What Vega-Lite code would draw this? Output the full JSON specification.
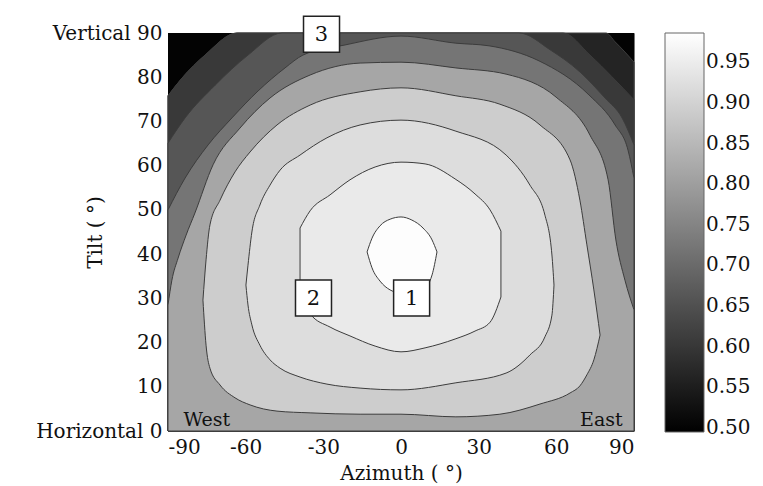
{
  "$schema": "https://vega.github.io/schema/vega-lite/v6.json",
  "width": 466,
  "height": 398,
  "autosize": {"type": "none"},
  "padding": {"left": 168, "top": 33, "right": 129, "bottom": 55},
  "background": "white",
  "config": {
    "view": {"stroke": "#777777", "strokeWidth": 1},
    "font": "DejaVu Serif",
    "axis": {
      "labelFont": "DejaVu Serif", "titleFont": "DejaVu Serif",
      "labelFontSize": 20, "titleFontSize": 20, "titleFontWeight": "normal",
      "labelColor": "#111111", "titleColor": "#111111",
      "grid": false, "ticks": false, "domain": false
    },
    "legend": {
      "orient": "right", "offset": 29, "padding": 0,
      "gradientLength": 399, "gradientThickness": 39,
      "gradientStrokeColor": "#666666", "gradientStrokeWidth": 1,
      "labelFont": "DejaVu Serif", "labelFontSize": 20, "labelColor": "#111111",
      "labelOffset": 6
    }
  },
  "datasets": {
    "regions": [
      {"region": "base", "value": 0.5, "azimuth": -90, "tilt": 90, "tilt_low": 0},
      {"region": "base", "value": 0.5, "azimuth": 90, "tilt": 90, "tilt_low": 0},

      {"region": "a", "value": 0.565, "azimuth": -90, "tilt": 75.8, "tilt_low": 0},
      {"region": "a", "value": 0.565, "azimuth": -84.6, "tilt": 79.8, "tilt_low": 0},
      {"region": "a", "value": 0.565, "azimuth": -75.7, "tilt": 85.0, "tilt_low": 0},
      {"region": "a", "value": 0.565, "azimuth": -63.3, "tilt": 90, "tilt_low": 0},
      {"region": "a", "value": 0.565, "azimuth": 79.2, "tilt": 90, "tilt_low": 0},
      {"region": "a", "value": 0.565, "azimuth": 82.7, "tilt": 88.0, "tilt_low": 0},
      {"region": "a", "value": 0.565, "azimuth": 86.5, "tilt": 85.7, "tilt_low": 0},
      {"region": "a", "value": 0.565, "azimuth": 90, "tilt": 83.4, "tilt_low": 0},

      {"region": "b", "value": 0.605, "azimuth": -90, "tilt": 75.8, "tilt_low": 0},
      {"region": "b", "value": 0.605, "azimuth": -84.6, "tilt": 79.8, "tilt_low": 0},
      {"region": "b", "value": 0.605, "azimuth": -75.7, "tilt": 85.0, "tilt_low": 0},
      {"region": "b", "value": 0.605, "azimuth": -63.3, "tilt": 90, "tilt_low": 0},
      {"region": "b", "value": 0.605, "azimuth": 62.6, "tilt": 90, "tilt_low": 0},
      {"region": "b", "value": 0.605, "azimuth": 73.0, "tilt": 85.0, "tilt_low": 0},
      {"region": "b", "value": 0.605, "azimuth": 81.5, "tilt": 80.1, "tilt_low": 0},
      {"region": "b", "value": 0.605, "azimuth": 90, "tilt": 74.9, "tilt_low": 0},

      {"region": "c", "value": 0.66, "azimuth": -90, "tilt": 65.1, "tilt_low": 0},
      {"region": "c", "value": 0.66, "azimuth": -83.4, "tilt": 70.8, "tilt_low": 0},
      {"region": "c", "value": 0.66, "azimuth": -71.8, "tilt": 78.2, "tilt_low": 0},
      {"region": "c", "value": 0.66, "azimuth": -59.1, "tilt": 85.0, "tilt_low": 0},
      {"region": "c", "value": 0.66, "azimuth": -46.0, "tilt": 90, "tilt_low": 0},
      {"region": "c", "value": 0.66, "azimuth": 45.6, "tilt": 90, "tilt_low": 0},
      {"region": "c", "value": 0.66, "azimuth": 57.6, "tilt": 86.2, "tilt_low": 0},
      {"region": "c", "value": 0.66, "azimuth": 69.1, "tilt": 81.2, "tilt_low": 0},
      {"region": "c", "value": 0.66, "azimuth": 78.8, "tilt": 75.3, "tilt_low": 0},
      {"region": "c", "value": 0.66, "azimuth": 85.4, "tilt": 70.8, "tilt_low": 0},
      {"region": "c", "value": 0.66, "azimuth": 90, "tilt": 64.7, "tilt_low": 0},

      {"region": "d", "value": 0.72, "azimuth": -90, "tilt": 50.0, "tilt_low": 0},
      {"region": "d", "value": 0.72, "azimuth": -83.4, "tilt": 57.2, "tilt_low": 0},
      {"region": "d", "value": 0.72, "azimuth": -74.5, "tilt": 64.7, "tilt_low": 0},
      {"region": "d", "value": 0.72, "azimuth": -65.3, "tilt": 70.8, "tilt_low": 0},
      {"region": "d", "value": 0.72, "azimuth": -55.2, "tilt": 76.9, "tilt_low": 0},
      {"region": "d", "value": 0.72, "azimuth": -44.8, "tilt": 82.1, "tilt_low": 0},
      {"region": "d", "value": 0.72, "azimuth": -37.9, "tilt": 85.0, "tilt_low": 0},
      {"region": "d", "value": 0.72, "azimuth": -21.6, "tilt": 87.3, "tilt_low": 0},
      {"region": "d", "value": 0.72, "azimuth": 0, "tilt": 89.3, "tilt_low": 0},
      {"region": "d", "value": 0.72, "azimuth": 21.2, "tilt": 87.7, "tilt_low": 0},
      {"region": "d", "value": 0.72, "azimuth": 34.0, "tilt": 87.1, "tilt_low": 0},
      {"region": "d", "value": 0.72, "azimuth": 53.3, "tilt": 83.7, "tilt_low": 0},
      {"region": "d", "value": 0.72, "azimuth": 72.6, "tilt": 76.0, "tilt_low": 0},
      {"region": "d", "value": 0.72, "azimuth": 82.7, "tilt": 69.2, "tilt_low": 0},
      {"region": "d", "value": 0.72, "azimuth": 87.7, "tilt": 63.5, "tilt_low": 0},
      {"region": "d", "value": 0.72, "azimuth": 90, "tilt": 57.2, "tilt_low": 0},

      {"region": "e", "value": 0.815, "azimuth": -90, "tilt": 28.5, "tilt_low": 0},
      {"region": "e", "value": 0.815, "azimuth": -88.5, "tilt": 34.1, "tilt_low": 0},
      {"region": "e", "value": 0.815, "azimuth": -86.1, "tilt": 39.1, "tilt_low": 0},
      {"region": "e", "value": 0.815, "azimuth": -83.0, "tilt": 44.3, "tilt_low": 0},
      {"region": "e", "value": 0.815, "azimuth": -79.6, "tilt": 49.3, "tilt_low": 0},
      {"region": "e", "value": 0.815, "azimuth": -72.6, "tilt": 60.2, "tilt_low": 0},
      {"region": "e", "value": 0.815, "azimuth": -62.2, "tilt": 68.5, "tilt_low": 0},
      {"region": "e", "value": 0.815, "azimuth": -50.6, "tilt": 75.3, "tilt_low": 0},
      {"region": "e", "value": 0.815, "azimuth": -35.1, "tilt": 80.5, "tilt_low": 0},
      {"region": "e", "value": 0.815, "azimuth": -15.8, "tilt": 83.2, "tilt_low": 0},
      {"region": "e", "value": 0.815, "azimuth": 0, "tilt": 83.4, "tilt_low": 0},
      {"region": "e", "value": 0.815, "azimuth": 21.2, "tilt": 82.1, "tilt_low": 0},
      {"region": "e", "value": 0.815, "azimuth": 40.6, "tilt": 80.7, "tilt_low": 0},
      {"region": "e", "value": 0.815, "azimuth": 59.9, "tilt": 75.5, "tilt_low": 0},
      {"region": "e", "value": 0.815, "azimuth": 73.0, "tilt": 66.9, "tilt_low": 0},
      {"region": "e", "value": 0.815, "azimuth": 80.0, "tilt": 56.8, "tilt_low": 0},
      {"region": "e", "value": 0.815, "azimuth": 83.0, "tilt": 43.2, "tilt_low": 0},
      {"region": "e", "value": 0.815, "azimuth": 86.5, "tilt": 34.1, "tilt_low": 0},
      {"region": "e", "value": 0.815, "azimuth": 90, "tilt": 27.4, "tilt_low": 0},

      {"region": "f", "value": 0.89, "azimuth": -76.5, "tilt": 29.6, "tilt_low": 29.6},
      {"region": "f", "value": 0.89, "azimuth": -75.3, "tilt": 38.7, "tilt_low": 19.4},
      {"region": "f", "value": 0.89, "azimuth": -73.8, "tilt": 46.6, "tilt_low": 14.2},
      {"region": "f", "value": 0.89, "azimuth": -69.9, "tilt": 52.2, "tilt_low": 10.4},
      {"region": "f", "value": 0.89, "azimuth": -64.1, "tilt": 58.6, "tilt_low": 7.5},
      {"region": "f", "value": 0.89, "azimuth": -58.3, "tilt": 63.1, "tilt_low": 5.9},
      {"region": "f", "value": 0.89, "azimuth": -47.9, "tilt": 69.2, "tilt_low": 4.5},
      {"region": "f", "value": 0.89, "azimuth": -35.1, "tilt": 73.7, "tilt_low": 4.1},
      {"region": "f", "value": 0.89, "azimuth": -15.8, "tilt": 76.7, "tilt_low": 3.8},
      {"region": "f", "value": 0.89, "azimuth": 0, "tilt": 77.6, "tilt_low": 3.8},
      {"region": "f", "value": 0.89, "azimuth": 21.2, "tilt": 75.8, "tilt_low": 3.2},
      {"region": "f", "value": 0.89, "azimuth": 38.2, "tilt": 73.9, "tilt_low": 3.8},
      {"region": "f", "value": 0.89, "azimuth": 53.7, "tilt": 69.2, "tilt_low": 6.1},
      {"region": "f", "value": 0.89, "azimuth": 65.3, "tilt": 61.3, "tilt_low": 8.6},
      {"region": "f", "value": 0.89, "azimuth": 69.1, "tilt": 52.2, "tilt_low": 10.2},
      {"region": "f", "value": 0.89, "azimuth": 71.8, "tilt": 42.1, "tilt_low": 12.7},
      {"region": "f", "value": 0.89, "azimuth": 74.5, "tilt": 31.9, "tilt_low": 16.1},
      {"region": "f", "value": 0.89, "azimuth": 76.9, "tilt": 21.7, "tilt_low": 21.7},

      {"region": "g", "value": 0.92, "azimuth": -59.9, "tilt": 33.0, "tilt_low": 33.0},
      {"region": "g", "value": 0.92, "azimuth": -59.1, "tilt": 37.5, "tilt_low": 28.5},
      {"region": "g", "value": 0.92, "azimuth": -57.6, "tilt": 45.0, "tilt_low": 24.0},
      {"region": "g", "value": 0.92, "azimuth": -54.5, "tilt": 51.1, "tilt_low": 19.4},
      {"region": "g", "value": 0.92, "azimuth": -50.6, "tilt": 55.6, "tilt_low": 16.1},
      {"region": "g", "value": 0.92, "azimuth": -46.7, "tilt": 59.0, "tilt_low": 14.2},
      {"region": "g", "value": 0.92, "azimuth": -39.0, "tilt": 62.4, "tilt_low": 12.2},
      {"region": "g", "value": 0.92, "azimuth": -28.6, "tilt": 66.3, "tilt_low": 10.6},
      {"region": "g", "value": 0.92, "azimuth": -15.8, "tilt": 69.2, "tilt_low": 9.7},
      {"region": "g", "value": 0.92, "azimuth": 0, "tilt": 70.3, "tilt_low": 9.3},
      {"region": "g", "value": 0.92, "azimuth": 21.2, "tilt": 67.8, "tilt_low": 10.9},
      {"region": "g", "value": 0.92, "azimuth": 40.6, "tilt": 62.4, "tilt_low": 13.1},
      {"region": "g", "value": 0.92, "azimuth": 49.8, "tilt": 55.6, "tilt_low": 17.2},
      {"region": "g", "value": 0.92, "azimuth": 55.6, "tilt": 48.8, "tilt_low": 21.3},
      {"region": "g", "value": 0.92, "azimuth": 58.3, "tilt": 39.8, "tilt_low": 26.2},
      {"region": "g", "value": 0.92, "azimuth": 59.1, "tilt": 33.0, "tilt_low": 33.0},

      {"region": "h", "value": 0.945, "azimuth": -39.0, "tilt": 45.9, "tilt_low": 31.9},
      {"region": "h", "value": 0.945, "azimuth": -35.1, "tilt": 49.8, "tilt_low": 26.5},
      {"region": "h", "value": 0.945, "azimuth": -27.4, "tilt": 53.4, "tilt_low": 23.5},
      {"region": "h", "value": 0.945, "azimuth": -19.7, "tilt": 56.8, "tilt_low": 21.5},
      {"region": "h", "value": 0.945, "azimuth": -10.0, "tilt": 59.7, "tilt_low": 19.2},
      {"region": "h", "value": 0.945, "azimuth": 0, "tilt": 60.8, "tilt_low": 17.9},
      {"region": "h", "value": 0.945, "azimuth": 9.3, "tilt": 60.4, "tilt_low": 18.8},
      {"region": "h", "value": 0.945, "azimuth": 20.9, "tilt": 57.0, "tilt_low": 20.8},
      {"region": "h", "value": 0.945, "azimuth": 28.6, "tilt": 53.6, "tilt_low": 22.6},
      {"region": "h", "value": 0.945, "azimuth": 34.4, "tilt": 50.0, "tilt_low": 24.6},
      {"region": "h", "value": 0.945, "azimuth": 38.6, "tilt": 45.2, "tilt_low": 30.3},

      {"region": "i", "value": 0.982, "azimuth": -13.1, "tilt": 40.5, "tilt_low": 40.5},
      {"region": "i", "value": 0.982, "azimuth": -11.2, "tilt": 43.6, "tilt_low": 36.9},
      {"region": "i", "value": 0.982, "azimuth": -8.1, "tilt": 46.4, "tilt_low": 33.9},
      {"region": "i", "value": 0.982, "azimuth": -4.2, "tilt": 47.9, "tilt_low": 31.9},
      {"region": "i", "value": 0.982, "azimuth": 0, "tilt": 48.4, "tilt_low": 31.2},
      {"region": "i", "value": 0.982, "azimuth": 4.2, "tilt": 47.7, "tilt_low": 31.4},
      {"region": "i", "value": 0.982, "azimuth": 8.5, "tilt": 45.9, "tilt_low": 31.9},
      {"region": "i", "value": 0.982, "azimuth": 12.0, "tilt": 43.2, "tilt_low": 35.3},
      {"region": "i", "value": 0.982, "azimuth": 13.9, "tilt": 40.5, "tilt_low": 40.5}
    ],
    "boxes": [
      {"label": "3", "azimuth": -30.7, "tilt": 89.7},
      {"label": "2", "azimuth": -33.8, "tilt": 30.1},
      {"label": "1", "azimuth": 4.1, "tilt": 30.1}
    ],
    "sides": [
      {"label": "West", "azimuth": -75.0, "tilt": 2.6},
      {"label": "East", "azimuth": 77.4, "tilt": 2.6}
    ]
  },
  "layer": [
    {
      "data": {"name": "regions"},
      "encoding": {
        "x": {
          "field": "azimuth", "type": "quantitative", "title": "Azimuth ( °)",
          "scale": {"domain": [-90, 90], "nice": false, "zero": false},
          "axis": {
            "values": [-90, -60, -30, 0, 30, 60, 90], "labelPadding": 6,
            "labelExpr": "datum.value < 0 ? '-' + abs(datum.value) : '' + datum.value",
            "titleY": 42, "titleBaseline": "middle"
          }
        },
        "y": {
          "field": "tilt", "type": "quantitative", "title": "Tilt ( °)", "stack": null,
          "scale": {"domain": [0, 90], "nice": false, "zero": false},
          "axis": {
            "values": [0, 10, 20, 30, 40, 50, 60, 70, 80, 90], "labelPadding": 6,
            "labelExpr": "datum.value === 90 ? 'Vertical 90' : datum.value === 0 ? 'Horizontal 0' : datum.label",
            "titleX": -73, "titleY": 199, "titleBaseline": "middle"
          }
        },
        "y2": {"field": "tilt_low"},
        "color": {
          "field": "value", "type": "quantitative",
          "scale": {"domain": [0.495, 0.986], "range": ["#000000", "#ffffff"], "interpolate": "rgb"},
          "legend": {
            "title": null, "type": "gradient", "direction": "vertical",
            "values": [0.5, 0.55, 0.6, 0.65, 0.7, 0.75, 0.8, 0.85, 0.9, 0.95],
            "format": ".2f", "gradientLength": 399
          }
        }
      },
      "layer": [
        {"transform": [{"filter": "datum.region === 'base'"}], "mark": {"type": "area", "orient": "vertical"}},
        {"transform": [{"filter": "datum.region === 'a'"}], "mark": {"type": "area", "orient": "vertical", "interpolate": "monotone", "stroke": "#3c3c3c", "strokeWidth": 1}},
        {"transform": [{"filter": "datum.region === 'b'"}], "mark": {"type": "area", "orient": "vertical", "interpolate": "monotone", "stroke": "#3c3c3c", "strokeWidth": 1}},
        {"transform": [{"filter": "datum.region === 'c'"}], "mark": {"type": "area", "orient": "vertical", "interpolate": "monotone", "stroke": "#3c3c3c", "strokeWidth": 1}},
        {"transform": [{"filter": "datum.region === 'd'"}], "mark": {"type": "area", "orient": "vertical", "interpolate": "monotone", "stroke": "#3c3c3c", "strokeWidth": 1}},
        {"transform": [{"filter": "datum.region === 'e'"}], "mark": {"type": "area", "orient": "vertical", "interpolate": "monotone", "stroke": "#3c3c3c", "strokeWidth": 1}},
        {"transform": [{"filter": "datum.region === 'f'"}], "mark": {"type": "area", "orient": "vertical", "interpolate": "monotone", "stroke": "#3c3c3c", "strokeWidth": 1}},
        {"transform": [{"filter": "datum.region === 'g'"}], "mark": {"type": "area", "orient": "vertical", "interpolate": "monotone", "stroke": "#3c3c3c", "strokeWidth": 1}},
        {"transform": [{"filter": "datum.region === 'h'"}], "mark": {"type": "area", "orient": "vertical", "interpolate": "monotone", "stroke": "#3c3c3c", "strokeWidth": 1}},
        {"transform": [{"filter": "datum.region === 'i'"}], "mark": {"type": "area", "orient": "vertical", "interpolate": "monotone", "stroke": "#3c3c3c", "strokeWidth": 1}}
      ]
    },
    {
      "data": {"name": "boxes"},
      "mark": {"type": "point", "shape": "square", "size": 1296, "filled": true, "fill": "#ffffff", "stroke": "#222222", "strokeWidth": 1.5, "opacity": 1},
      "encoding": {
        "x": {"field": "azimuth", "type": "quantitative", "title": "Azimuth ( °)", "scale": {"domain": [-90, 90], "nice": false, "zero": false}},
        "y": {"field": "tilt", "type": "quantitative", "title": "Tilt ( °)", "scale": {"domain": [0, 90], "nice": false, "zero": false}}
      }
    },
    {
      "data": {"name": "boxes"},
      "mark": {"type": "text", "font": "DejaVu Serif", "fontSize": 21, "color": "#111111", "align": "center", "baseline": "middle", "dy": 1},
      "encoding": {
        "x": {"field": "azimuth", "type": "quantitative", "title": "Azimuth ( °)", "scale": {"domain": [-90, 90], "nice": false, "zero": false}},
        "y": {"field": "tilt", "type": "quantitative", "title": "Tilt ( °)", "scale": {"domain": [0, 90], "nice": false, "zero": false}},
        "text": {"field": "label"}
      }
    },
    {
      "data": {"name": "sides"},
      "mark": {"type": "text", "font": "DejaVu Serif", "fontSize": 19, "color": "#111111", "align": "center", "baseline": "middle"},
      "encoding": {
        "x": {"field": "azimuth", "type": "quantitative", "title": "Azimuth ( °)", "scale": {"domain": [-90, 90], "nice": false, "zero": false}},
        "y": {"field": "tilt", "type": "quantitative", "title": "Tilt ( °)", "scale": {"domain": [0, 90], "nice": false, "zero": false}},
        "text": {"field": "label"}
      }
    }
  ]
}
